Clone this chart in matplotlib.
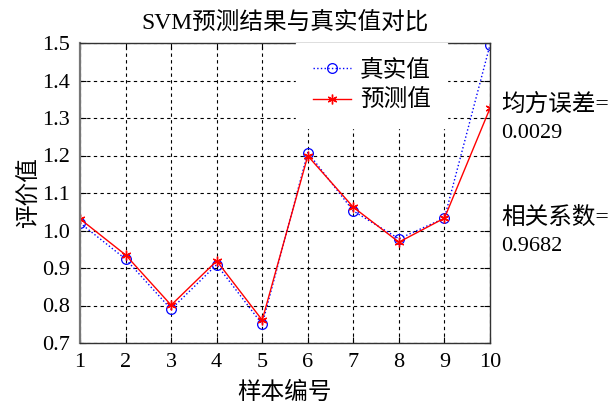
import matplotlib
matplotlib.use("Agg")
import matplotlib.pyplot as plt

plt.rcParams['font.family'] = ['Liberation Serif', 'Noto Sans CJK SC']

samples = [1, 2, 3, 4, 5, 6, 7, 8, 9, 10]
actual = [1.020, 0.924, 0.790, 0.909, 0.750, 1.208, 1.052, 0.978, 1.033, 1.495]
predicted = [1.031, 0.935, 0.801, 0.919, 0.761, 1.199, 1.062, 0.969, 1.033, 1.326]
yticks = [0.7, 0.8, 0.9, 1.0, 1.1, 1.2, 1.3, 1.4, 1.5]
mse_text = "0.0029"
r_text = "0.9682"

fig = plt.figure(figsize=(6.15, 4.05), dpi=100)
ax = fig.add_axes([80 / 615, 1 - 343 / 405, 410 / 615, 300 / 405])

ax.plot(samples, actual, color='blue', linestyle=':', linewidth=1.0,
        marker='o', markersize=7, markerfacecolor='none',
        markeredgecolor='blue', markeredgewidth=0.9, label='真实值')
ax.plot(samples, predicted, color='red', linestyle='-', linewidth=1.0,
        marker=(6, 2, 0), markersize=7, markeredgewidth=1.0,
        markeredgecolor='red', label='预测值')

ax.set_xlim(1, 10)
ax.set_ylim(0.7, 1.5)
ax.set_xticks(samples)
ax.set_yticks(yticks)
ax.set_yticklabels([f"{v:.1f}" for v in yticks])
ax.grid(True, color='black', linestyle=(0, (3, 3)), linewidth=0.8)
ax.tick_params(direction='in', top=True, right=True, labelsize=16,
               length=4, pad=7)
for s in ax.spines.values():
    s.set_color('#333333')
    s.set_linewidth(1.0)
ax.spines['left'].set_color('#777777')
ax.spines['left'].set_linewidth(1.6)

ax.set_title('SVM预测结果与真实值对比', fontsize=17, pad=10)
ax.set_xlabel('样本编号', fontsize=17, labelpad=7)
ax.set_ylabel('评价值', fontsize=17, labelpad=1)

leg = ax.legend(loc='upper left', bbox_to_anchor=((296 - 80) / 410, 1.0),
                fontsize=17, frameon=True, fancybox=False,
                edgecolor='white', framealpha=1.0, handlelength=1.65,
                handletextpad=0.35, borderaxespad=0.0, borderpad=0.7,
                labelspacing=0.35)

fig.text(501 / 615, 1 - 105 / 405, '均方误差=', fontsize=17, va='center')
fig.text(501 / 615, 1 - 134 / 405, mse_text, fontsize=16, va='center')
fig.text(501 / 615, 1 - 218 / 405, '相关系数=', fontsize=17, va='center')
fig.text(501 / 615, 1 - 247 / 405, r_text, fontsize=16, va='center')

fig.savefig('out.png', dpi=100)
